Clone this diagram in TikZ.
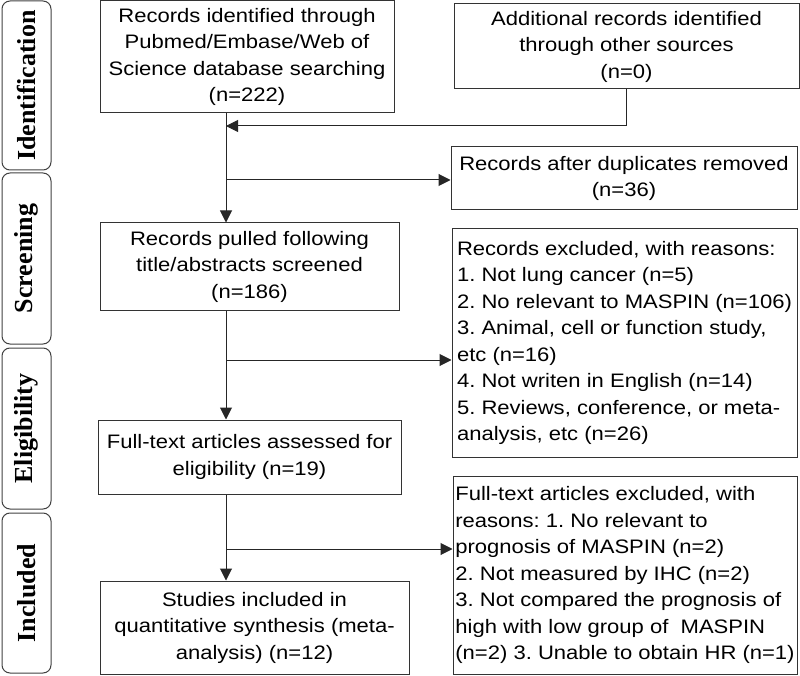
\documentclass[tikz,border=0pt]{standalone}
\usepackage{fontspec}
\setmainfont[FakeStretch=1.13]{Liberation Sans}
\newfontfamily\stagefont{Liberation Serif}
\usetikzlibrary{arrows.meta}
\frenchspacing

\tikzset{
  box/.style={draw=black!80, line width=1pt, inner sep=0pt, align=center,
    font=\fontsize{19.5}{26.5}\selectfont},
  note/.style={box, align=left},
  stage/.style={draw=black!75, line width=1pt, rounded corners=8pt, rotate=90,
    minimum height=49pt, inner sep=0pt, font=\stagefont\bfseries\fontsize{26}{30}\selectfont},
  arr/.style={draw=black!85, line width=1pt, -{Triangle[length=12pt,width=12pt]}},
}

\begin{document}
\begin{tikzpicture}[x=1pt,y=-1pt]
\useasboundingbox (0,0) rectangle (800,676);

% stages
\node[stage, minimum width=169pt] (ident) at (26.5,85.5) {Identification};
\node[stage, minimum width=171pt] (screen) at (26.5,258.5) {Screening};
\node[stage, minimum width=161pt] (elig) at (26.5,428.5) {Eligibility};
\node[stage, minimum width=160pt] (inclu) at (26.5,593) {Included};

% boxes
\node[box, minimum width=294pt, minimum height=112pt] (found) at (247,57)
  {Records identified through\\Pubmed/Embase/Web of\\Science database searching\\(n=222)};
\node[box, minimum width=345pt, minimum height=85pt] (other) at (626.5,46.5)
  {Additional records identified\\through other sources\\(n=0)};
\node[box, minimum width=346pt, minimum height=63pt] (dedup) at (624,178.5)
  {Records after duplicates removed\\(n=36)};
\node[box, minimum width=299pt, minimum height=87pt] (pulled) at (249.5,266.5)
  {Records pulled following\\title/abstracts screened\\(n=186)};
\node[note, minimum width=345pt, minimum height=228pt] (excl) at (624.5,343)
  {Records excluded, with reasons:\\1. Not lung cancer (n=5)\\2. No relevant to MASPIN (n=106)\\3. Animal, cell or function study,\\etc (n=16)\\4. Not writen in English (n=14)\\5. Reviews, conference, or meta-\\analysis, etc (n=26)};
\node[box, minimum width=303pt, minimum height=74pt] (fulltext) at (249.5,457)
  {Full-text articles assessed for\\eligibility (n=19)};
\node[note, minimum width=344pt, minimum height=198pt] (ftexcl) at (625,575)
  {Full-text articles excluded, with\\reasons: 1. No relevant to\\prognosis of MASPIN (n=2)\\2. Not measured by IHC (n=2)\\3. Not compared the prognosis of\\high with low group of \ MASPIN\\(n=2) 3. Unable to obtain HR (n=1)};
\node[box, minimum width=309pt, minimum height=93pt] (incl) at (254.5,627.5)
  {Studies included in\\quantitative synthesis (meta-\\analysis) (n=12)};

% connectors
\coordinate (trunk) at (226,0);
\coordinate (merge) at (226,126);
\coordinate (split1) at (226,180);
\coordinate (split2) at (226,360);
\coordinate (split3) at (226,549);

\draw[arr] (found.south -| trunk) -- (pulled.north -| trunk);
\draw[arr] (other.south) |- (merge);
\draw[arr] (split1) -- (split1 -| dedup.west);
\draw[arr] (pulled.south -| trunk) -- (fulltext.north -| trunk);
\draw[arr] (split2) -- (split2 -| excl.west);
\draw[arr] (fulltext.south -| trunk) -- (incl.north -| trunk);
\draw[arr] (split3) -- (split3 -| ftexcl.west);
\end{tikzpicture}
\end{document}
